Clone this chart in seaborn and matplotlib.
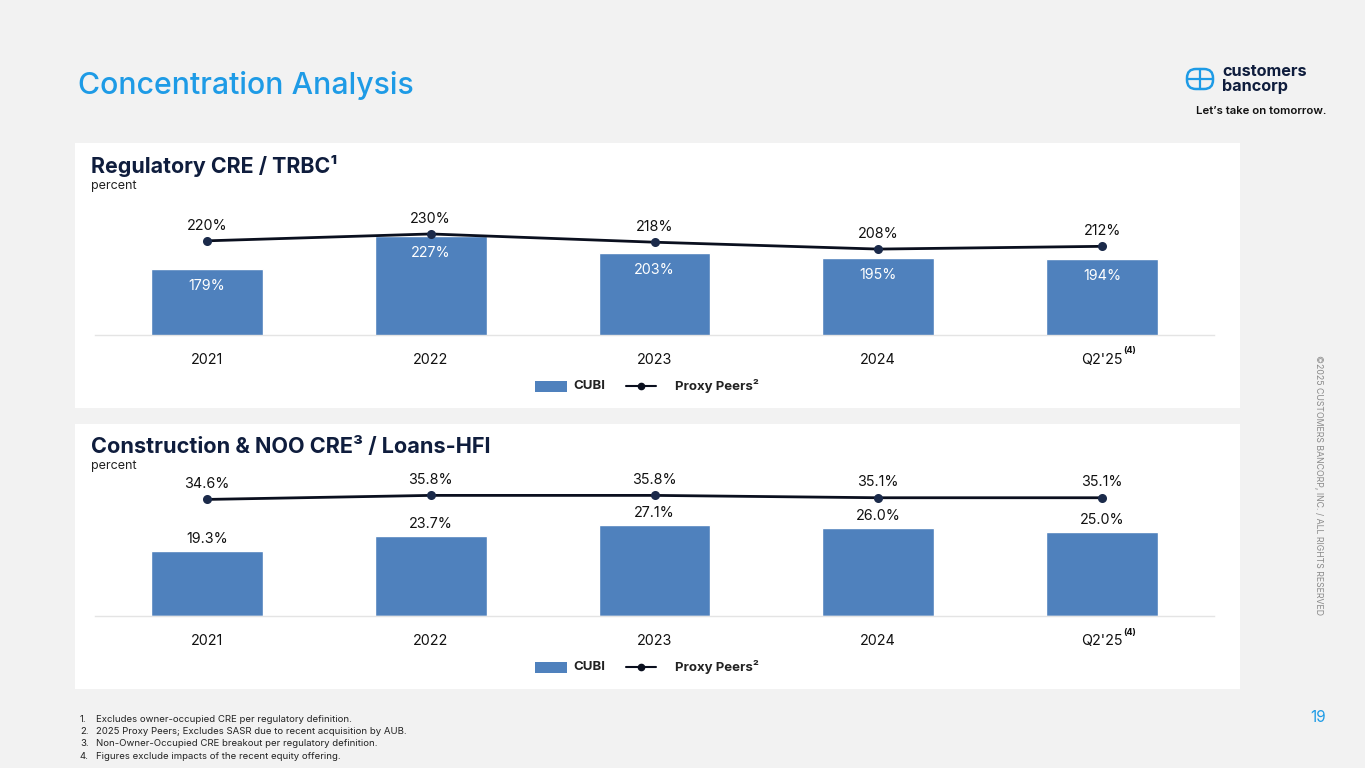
import matplotlib
matplotlib.use("Agg")
import matplotlib.pyplot as plt
import seaborn as sns
import pandas as pd
from matplotlib.patches import Rectangle, FancyBboxPatch

# ---------------- data ----------------
periods = ["2021", "2022", "2023", "2024", "Q2'25"]
cre_cubi = [179, 227, 203, 195, 194]
cre_peers = [220, 230, 218, 208, 212]
con_cubi = [19.3, 23.7, 27.1, 26.0, 25.0]
con_peers = [34.6, 35.8, 35.8, 35.1, 35.1]
footnotes = [
    "Excludes owner-occupied CRE per regulatory definition.",
    "2025 Proxy Peers; Excludes SASR due to recent acquisition by AUB.",
    "Non-Owner-Occupied CRE breakout per regulatory definition.",
    "Figures exclude impacts of the recent equity offering.",
]

sns.set_theme(style="white")
plt.rcParams["font.family"] = ["Inter", "DejaVu Sans"]

W, H = 1365, 768
fig = plt.figure(figsize=(W / 100, H / 100), dpi=100)
fig.patch.set_facecolor("#f2f2f2")

bg = fig.add_axes([0, 0, 1, 1], zorder=0)
bg.set_xlim(0, W)
bg.set_ylim(H, 0)
bg.axis("off")

NAVY = "#0f1d3d"
BLUE = "#1e9be6"
BAR = "#4f81bd"
LINE = "#0a0f1e"

# panels
bg.add_patch(Rectangle((75, 143), 1165, 265, facecolor="white", edgecolor="none"))
bg.add_patch(Rectangle((75, 424), 1165, 265, facecolor="white", edgecolor="none"))

# title
bg.text(78, 86, "Concentration Analysis", color=BLUE, fontsize=21.8, fontweight="medium",
        va="center", ha="left")

# logo
bg.add_patch(FancyBboxPatch((1187, 69), 26, 20, boxstyle="round,pad=0,rounding_size=9",
                            facecolor="none", edgecolor=BLUE, linewidth=1.8))
bg.plot([1187, 1213], [79, 79], color=BLUE, lw=1.6)
bg.plot([1200, 1200], [69, 89], color=BLUE, lw=1.6)
bg.text(1222, 71, "customers", color=NAVY, fontsize=11.7, fontweight="bold", va="center", ha="left")
bg.text(1222, 86, "bancorp", color=NAVY, fontsize=11.7, fontweight="bold", va="center", ha="left")
bg.text(1326, 111, "Let\u2019s take on tomorrow.", color="#111111", fontsize=8.2,
        fontweight="semibold", va="center", ha="right")

# copyright vertical
bg.text(1318, 485, "\u00a92025 CUSTOMERS BANCORP, INC. / ALL RIGHTS RESERVED", color="#8a8a8a",
        fontsize=6.3, rotation=-90, va="center", ha="center")
# page number
bg.text(1326, 718, "19", color=BLUE, fontsize=11, va="center", ha="right")

# footnotes
for i, fn in enumerate(footnotes):
    y = 719 + i * 12.4
    bg.text(80, y, f"{i + 1}.", color="#222222", fontsize=6.9, va="center", ha="left")
    bg.text(96, y, fn, color="#222222", fontsize=6.9, va="center", ha="left")

# panel titles
bg.text(91, 166, "Regulatory CRE / TRBC\u00b9", color=NAVY, fontsize=15.4, fontweight="bold",
        va="center", ha="left")
bg.text(91, 186, "percent", color="#222222", fontsize=9, va="center", ha="left")
bg.text(91, 447, "Construction & NOO CRE\u00b3 / Loans-HFI", color=NAVY, fontsize=15.6,
        fontweight="bold", va="center", ha="left")
bg.text(91, 466, "percent", color="#222222", fontsize=9, va="center", ha="left")


def px_axes(left, right, base_y, top_y):
    return fig.add_axes([left / W, (H - base_y) / H, (right - left) / W, (base_y - top_y) / H],
                        zorder=2)


def draw_chart(ax, cubi, peers, ylim, bar_fmt, line_fmt, bar_inside):
    df = pd.DataFrame({"period": periods, "cubi": cubi, "peers": peers})
    sns.barplot(data=df, x="period", y="cubi", color=BAR, saturation=1, width=0.5, ax=ax)
    sns.pointplot(data=df, x="period", y="peers", color=LINE, markers="o", linestyles="-",
                  markersize=5, linewidth=2.0, ax=ax)
    for ln in ax.lines:
        ln.set_markerfacecolor("#1b2a4a")
        ln.set_markeredgecolor("#1b2a4a")
    ax.set_ylim(*ylim)
    ax.set_xlim(-0.5, 4.5)
    ax.patch.set_alpha(0)
    for s in ["top", "right", "left"]:
        ax.spines[s].set_visible(False)
    ax.spines["bottom"].set_color("#e4e4e4")
    ax.spines["bottom"].set_linewidth(1)
    ax.set_yticks([])
    ax.set_xlabel("")
    ax.set_ylabel("")
    ax.tick_params(axis="x", length=0, pad=13, labelsize=10.3, labelcolor="#111111")
    rng = ylim[1] - ylim[0]
    for i, (c, p) in enumerate(zip(cubi, peers)):
        ax.text(i, p + rng * 0.06, line_fmt.format(p), ha="center", va="bottom",
                fontsize=10.3, color="#111111")
        if bar_inside:
            ax.text(i, c - rng * 0.075, bar_fmt.format(c), ha="center", va="top",
                    fontsize=10.3, color="white")
        else:
            ax.text(i, c + rng * 0.035, bar_fmt.format(c), ha="center", va="bottom",
                    fontsize=10.3, color="#111111")


ax1 = px_axes(95, 1214, 335, 200)
draw_chart(ax1, cre_cubi, cre_peers, (83, 279.4), "{:.0f}%", "{:.0f}%", True)
ax2 = px_axes(95, 1214, 616, 474.5)
draw_chart(ax2, con_cubi, con_peers, (0, 42), "{:.1f}%", "{:.1f}%", False)

# superscript (4) next to Q2'25
for ty in (350, 632):
    bg.text(1123, ty, "(4)", fontsize=6.5, fontweight="bold", color="#111111", va="center",
            ha="left", zorder=3)

# legends
for ly in (386, 667):
    bg.add_patch(Rectangle((535, ly - 5), 32, 11, facecolor=BAR, edgecolor="none"))
    bg.text(573, ly, "CUBI", fontsize=9.5, fontweight="bold", color="#222222", va="center",
            ha="left")
    bg.plot([626, 656], [ly, ly], color=LINE, lw=1.5)
    bg.plot([641], [ly], marker="o", color=LINE, markersize=4.5)
    bg.text(675, ly, "Proxy Peers\u00b2", fontsize=9.5, fontweight="bold", color="#222222",
            va="center", ha="left")

fig.savefig("out.png", dpi=100, facecolor=fig.get_facecolor())
